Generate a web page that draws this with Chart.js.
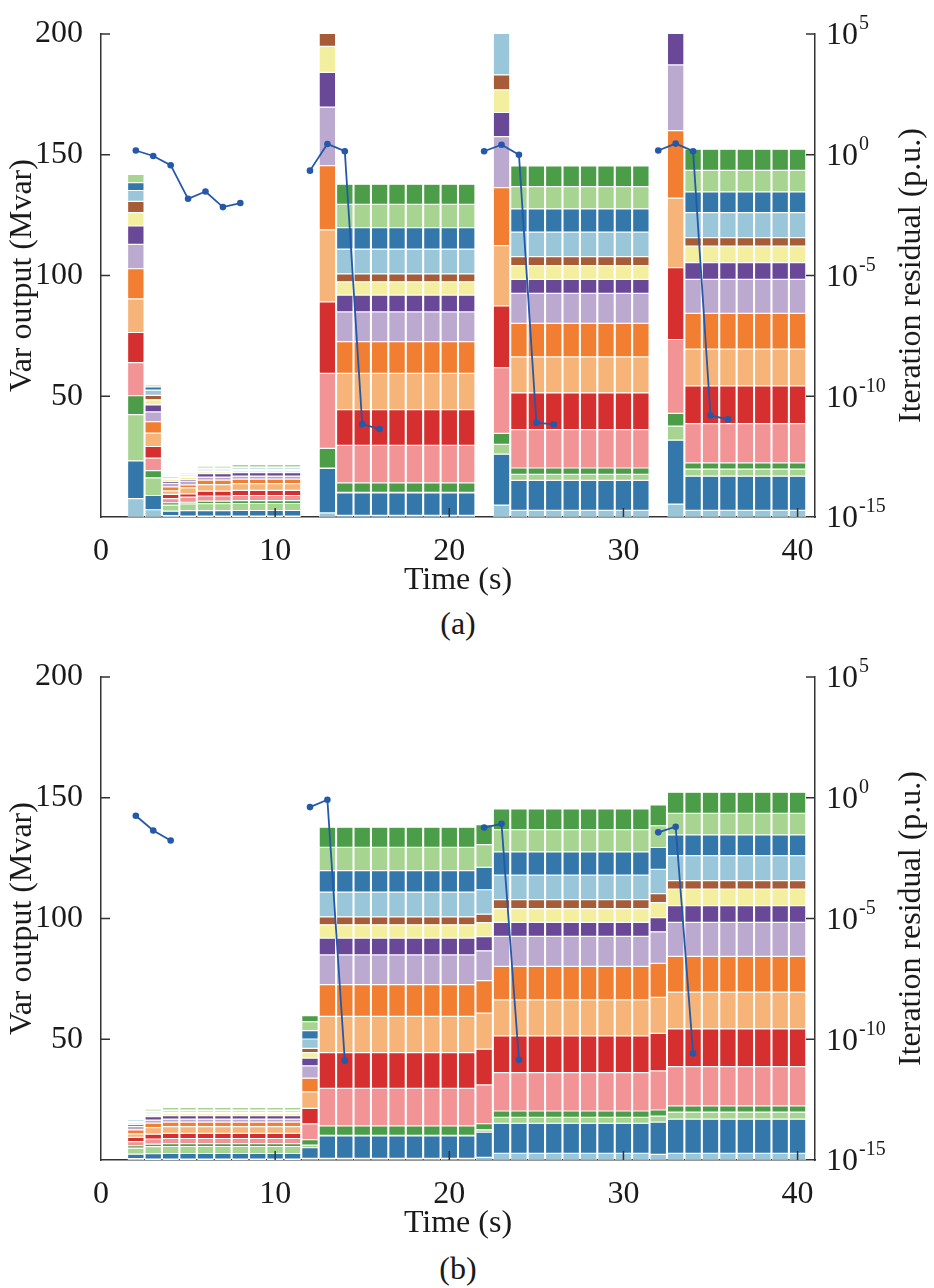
<!DOCTYPE html>
<html>
<head>
<meta charset="utf-8">
<script src="https://cdn.jsdelivr.net/npm/chart.js@4.4.1/dist/chart.umd.min.js"></script>
<style>
  body { margin: 0; background: #fff; width: 934px; height: 1288px; position: relative; overflow: hidden; }
  .panel { position: absolute; left: 0; width: 934px; height: 600px; }
  .tag { position: absolute; left: 0; width: 916px; text-align: center; font: 32px 'Liberation Serif', serif; color: #1a1a1a; line-height: 36px; }
</style>
</head>
<body>
<div class="panel" style="top:0"><canvas id="chartA" width="934" height="600"></canvas></div>
<div class="tag" style="top:605px">(a)</div>
<div class="panel" style="top:643px"><canvas id="chartB" width="934" height="600"></canvas></div>
<div class="tag" style="top:1250px">(b)</div>
<script>
// 16 generator outputs per bar, bottom to top
const genNames = ['G1','G2','G3','G4','G5','G6','G7','G8','G9','G10','G11','G12','G13','G14','G15','G16'];
const genColors = ['#9ac6da','#3477aa','#a7d490','#4b9d48','#f29496','#d62f2f','#f6b478','#f27f31',
                   '#bca9cf','#6a4898','#f3ef9e','#a65c37','#9ac6da','#3477aa','#a7d490','#4b9d48'];

// stack profiles (Mvar)
const a2  = [7.6,15.6,19.2,7.8,13.7,12.5,13.9,12.5,10.1,7.6,5.5,4.7,4.5,3.2,3.5,0.5];
const a3  = [3.0,5.9,7.3,3.0,5.2,4.8,5.5,4.8,4.0,2.9,2.1,1.9,2.1,1.4,0.8,0.3];
const s17 = [0.6,1.8,2.5,1.0,1.7,1.8,1.4,1.7,1.4,0.8,0.8,0.5,0.7,0.4,0.5,0.1];
const s19 = [0.4,2.2,2.8,0.7,2.1,1.4,2.5,1.2,1.5,0.7,1.0,0.4,0.6,0.4,0.6,0.2];
const s21 = [0.4,2.2,2.9,1.1,2.1,2.0,2.7,1.9,1.2,1.4,0.8,0.4,0.7,0.4,0.9,0.2];
const s22 = [0.4,2.3,2.9,1.2,2.1,2.1,2.8,1.9,1.2,1.5,0.8,0.4,0.7,0.4,1.1,0.2];
const a13 = [1.7,18.4,0.2,8.1,31.1,29.6,29.8,26.6,24.2,14.4,10.8,9.0,19,17,18,16];
const a23 = [4.9,21.1,4.1,4.5,27.2,25.6,25.0,24.0,21.1,10.0,9.4,6.2,19,17,17,16];
const a33 = [5.3,26.5,5.8,5.3,30.6,29.7,28.8,28.0,27.2,14,12,8,19,17,17,16];
const p14 = [0.7,9.3,0.2,3.9,15.6,14.8,15.0,13.1,12.3,7.0,5.5,3.3,10.2,8.9,9.7,8.3];
const p24 = [2.8,12.4,2.5,2.6,15.9,15.2,14.9,13.9,12.4,5.8,5.7,3.7,10.2,9.6,9.2,8.6];
const p34 = [2.8,14.1,2.9,2.6,16.3,15.6,15.2,14.8,14.1,6.9,6.9,3.5,10.3,8.6,8.9,8.8];
const b12 = [0.7,4.4,1.1,2.2,6.6,6.4,6.8,5.7,5.1,3.2,2.3,1.7,3.9,3.5,3.7,2.5];
const b22 = [1.1,10.4,1.0,2.6,16.0,14.8,14.9,13.5,12.3,5.9,5.8,3.5,10.1,9.3,9.4,8.3];
const b32 = [2.3,13.4,2.5,2.5,16.2,15.5,14.9,14.1,13.1,5.9,6.2,3.7,10.1,9.0,9.0,8.6];

// panel (a)
const timesA  = [2,3,4,5,6,7,8,9,10,11, 13,14,15,16,17,18,19,20,21, 23,24,25,26,27,28,29,30,31, 33,34,35,36,37,38,39,40];
const stacksA = [a2,a3,s17,s19,s21,s21,s22,s22,s22,s22, a13,p14,p14,p14,p14,p14,p14,p14,p14,
                 a23,p24,p24,p24,p24,p24,p24,p24,p24, a33,p34,p34,p34,p34,p34,p34,p34];
const resTimeA = [2,3,4,5,6,7,8,10, 12,13,14,15,16,19, 22,23,24,25,26,29, 32,33,34,35,36];
const resValA  = [1.5,0.89,0.37,0.015,0.03,0.0068,0.01,null, 0.22,2.8,1.4,7e-12,4.4e-12,null,
                  1.4,2.6,1.0,8e-12,6.8e-12,null, 1.5,2.9,1.4,1.6e-11,1.1e-11];

// panel (b)
const timesB  = [2,3,4,5,6,7,8,9,10,11,12,13,14,15,16,17,18,19,20,21,22,23,24,25,26,27,28,29,30,31,32,33,34,35,36,37,38,39,40];
const stacksB = [s17,s21,s22,s22,s22,s22,s22,s22,s22,s22, b12, p14,p14,p14,p14,p14,p14,p14,p14,p14,
                 b22, p24,p24,p24,p24,p24,p24,p24,p24,p24, b32, p34,p34,p34,p34,p34,p34,p34,p34];
const resTimeB = [2,3,4,8, 12,13,14,18, 22,23,24,28, 32,33,34];
const resValB  = [0.18,0.044,0.017,null, 0.41,0.83,1.3e-11,null, 0.058,0.083,1.4e-11,null, 0.037,0.063,2.6e-11];

// tick labels
const xTicks = [0,10,20,30,40];
const yTicks = [50,100,150,200];
const resExps = [-15,-10,-5,0,5];

const serif = "'Liberation Serif', 'Times New Roman', serif";
const ink = '#1a1a1a';
const lineBlue = '#2458a8';
const fs = 32;

// matplotlib-like inward ticks, 10^n labels and the right title
const axisExtras = {
  id: 'axisExtras',
  afterDraw(chart) {
    const { ctx, chartArea: a, scales } = chart;
    ctx.save();
    ctx.strokeStyle = '#333';
    ctx.lineWidth = 1.5;
    ctx.beginPath();
    xTicks.slice(1).forEach(v => {
      const x = scales.x.getPixelForValue(v);
      ctx.moveTo(x, a.bottom); ctx.lineTo(x, a.bottom - 9);
    });
    yTicks.forEach(v => {
      const y = scales.y.getPixelForValue(v);
      ctx.moveTo(a.left, y); ctx.lineTo(a.left + 9, y);
    });
    resExps.slice(1).forEach(e => {
      const y = scales.y2.getPixelForValue(Math.pow(10, e));
      ctx.moveTo(a.right, y); ctx.lineTo(a.right - 9, y);
    });
    ctx.stroke();

    ctx.fillStyle = ink;
    ctx.textBaseline = 'middle';
    ctx.textAlign = 'left';
    resExps.forEach(e => {
      const y = scales.y2.getPixelForValue(Math.pow(10, e));
      const x = a.right + 11;
      ctx.font = fs + 'px ' + serif;
      ctx.fillText('10', x, y + 2);
      const w = ctx.measureText('10').width;
      ctx.font = '20px ' + serif;
      ctx.fillText(String(e), x + w + 1, y - 10);
    });

    ctx.font = fs + 'px ' + serif;
    ctx.textAlign = 'center';
    ctx.translate(912, (a.top + a.bottom) / 2);
    ctx.rotate(-Math.PI / 2);
    ctx.fillText('Iteration residual (p.u.)', 0, 0);
    ctx.restore();
  }
};

function build(id, times, stacks, resT, resV) {
  const datasets = genColors.map((c, g) => ({
    type: 'bar',
    label: genNames[g],
    order: 1,
    clip: 0,
    yAxisID: 'y',
    data: times.map((t, i) => ({ x: t, y: stacks[i][g] })),
    backgroundColor: c,
    borderColor: '#ffffff',
    borderWidth: 0.6,
    borderSkipped: false,
    categoryPercentage: 1,
    barPercentage: 0.95
  }));
  datasets.push({
    type: 'line',
    label: 'Residual',
    order: 0,
    yAxisID: 'y2',
    data: resT.map((t, i) => ({ x: t, y: resV[i] })),
    borderColor: lineBlue,
    backgroundColor: lineBlue,
    borderWidth: 1.8,
    pointRadius: 3.3,
    pointBorderWidth: 0,
    spanGaps: false,
    tension: 0
  });

  return new Chart(document.getElementById(id).getContext('2d'), {
    type: 'bar',
    data: { datasets },
    plugins: [axisExtras],
    options: {
      responsive: false,
      animation: false,
      layout: { padding: { top: 34, bottom: 0, left: 0, right: 0 } },
      plugins: { legend: { display: false }, tooltip: { enabled: false } },
      scales: {
        x: {
          type: 'linear', min: 0, max: 41, stacked: true, offset: false,
          afterBuildTicks: s => { s.ticks = xTicks.map(v => ({ value: v })); },
          afterFit: s => { s.height = 83; },
          grid: { display: false, offset: false },
          border: { display: true, color: '#333', width: 1.5 },
          ticks: { font: { family: serif, size: fs }, color: ink, padding: 7, maxRotation: 0, autoSkip: false },
          title: { display: true, text: 'Time (s)', font: { family: serif, size: fs }, color: ink, padding: { top: 0, bottom: 0 } }
        },
        y: {
          position: 'left', min: 0, max: 200, stacked: true,
          afterBuildTicks: s => { s.ticks = yTicks.map(v => ({ value: v })); },
          afterFit: s => { s.width = 101; },
          grid: { display: false },
          border: { display: true, color: '#333', width: 1.5 },
          ticks: { font: { family: serif, size: fs }, color: ink, padding: 10 },
          title: { display: true, text: 'Var output (Mvar)', font: { family: serif, size: fs }, color: ink, padding: { top: 3, bottom: 0 } }
        },
        y2: {
          type: 'logarithmic', position: 'right', min: 1e-15, max: 1e5,
          afterBuildTicks: s => { s.ticks = resExps.map(e => ({ value: Math.pow(10, e) })); },
          afterFit: s => { s.width = 119; },
          grid: { display: false },
          border: { display: true, color: '#333', width: 1.5 },
          ticks: { display: false }
        }
      }
    }
  });
}

build('chartA', timesA, stacksA, resTimeA, resValA);
build('chartB', timesB, stacksB, resTimeB, resValB);
</script>
</body>
</html>
